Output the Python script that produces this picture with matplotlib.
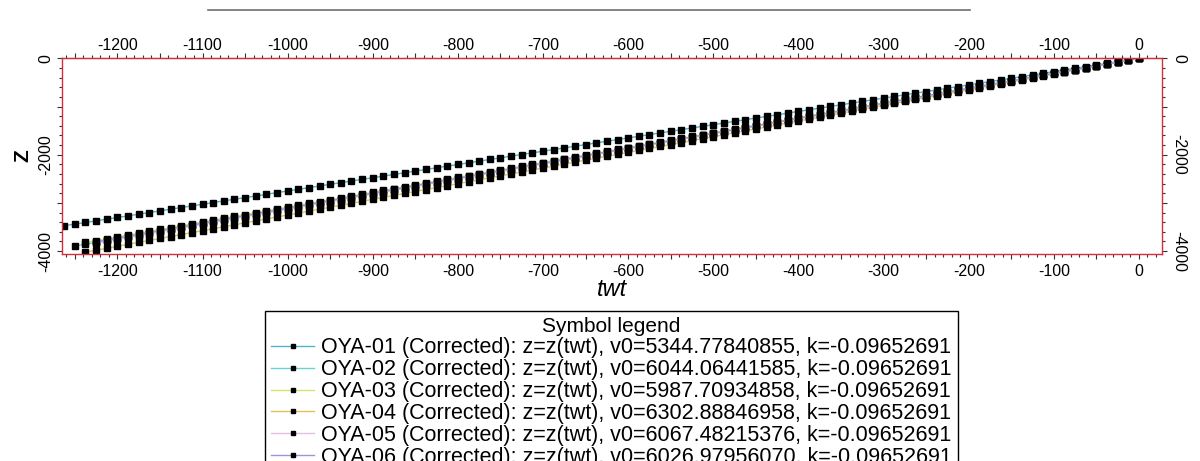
import numpy as np
import matplotlib

matplotlib.use("Agg")
import matplotlib.pyplot as plt
from matplotlib.lines import Line2D
from matplotlib.ticker import MultipleLocator, FuncFormatter

plt.rcParams["font.family"] = ["Liberation Sans", "DejaVu Sans"]

# twt sample grid (ms), markers every 12.5 ms going down from 0
twt_step = 12.5

# depth at each twt sample (positive down, plotted as -z)
z_oya01 = [0, 34, 69, 103, 138, 172, 206, 241, 275, 310, 344, 378, 413, 447, 482, 516, 550, 585, 619, 654,
           688, 722, 757, 791, 826, 860, 894, 929, 963, 998, 1032, 1066, 1101, 1135, 1170, 1204, 1238, 1273,
           1307, 1342, 1376, 1410, 1445, 1479, 1514, 1548, 1582, 1617, 1651, 1686, 1720, 1754, 1789, 1823,
           1858, 1892, 1926, 1961, 1995, 2030, 2064, 2098, 2133, 2167, 2202, 2236, 2270, 2305, 2339, 2374,
           2408, 2442, 2477, 2511, 2546, 2580, 2614, 2649, 2683, 2718, 2752, 2786, 2821, 2855, 2890, 2924,
           2958, 2993, 3027, 3062, 3096, 3130, 3165, 3199, 3234, 3268, 3302, 3337, 3371, 3406, 3440, 3474, 3509]
z_oya02 = [0, 39, 78, 117, 156, 195, 234, 273, 312, 351, 390, 429, 468, 506, 545, 584, 623, 662, 701, 740,
           779, 818, 857, 896, 935, 974, 1013, 1052, 1091, 1130, 1169, 1208, 1247, 1286, 1325, 1364, 1403,
           1442, 1480, 1519, 1558, 1597, 1636, 1675, 1714, 1753, 1792, 1831, 1870, 1909, 1948, 1987, 2026,
           2065, 2104, 2143, 2182, 2221, 2260, 2299, 2338, 2377, 2416, 2454, 2493, 2532, 2571, 2610, 2649,
           2688, 2727, 2766, 2805, 2844, 2883, 2922, 2961, 3000, 3039, 3078, 3117, 3156, 3195, 3234, 3273,
           3312, 3351, 3390, 3428, 3467, 3506, 3545, 3584, 3623, 3662, 3701, 3740, 3779, 3818, 3857, 3896]
z_oya03 = [0, 39, 77, 116, 154, 193, 232, 270, 309, 347, 386, 425, 463, 502, 540, 579, 618, 656, 695, 733,
           772, 811, 849, 888, 926, 965, 1004, 1042, 1081, 1119, 1158, 1197, 1235, 1274, 1312, 1351, 1390,
           1428, 1467, 1505, 1544, 1583, 1621, 1660, 1698, 1737, 1776, 1814, 1853, 1891, 1930, 1969, 2007,
           2046, 2084, 2123, 2162, 2200, 2239, 2277, 2316, 2355, 2393, 2432, 2470, 2509, 2548, 2586, 2625,
           2663, 2702, 2741, 2779, 2818, 2856, 2895, 2934, 2972, 3011, 3049, 3088, 3127, 3165, 3204, 3242,
           3281, 3320, 3358, 3397, 3435, 3474, 3513, 3551, 3590, 3628, 3667, 3706, 3744, 3783, 3821]
z_oya04 = [0, 41, 81, 122, 163, 203, 244, 284, 325, 366, 406, 447, 488, 528, 569, 609, 650, 691, 731, 772,
           813, 853, 894, 934, 975, 1016, 1056, 1097, 1138, 1178, 1219, 1260, 1300, 1341, 1381, 1422, 1463,
           1503, 1544, 1585, 1625, 1666, 1706, 1747, 1788, 1828, 1869, 1910, 1950, 1991, 2032, 2072, 2113,
           2153, 2194, 2235, 2275, 2316, 2357, 2397, 2438, 2478, 2519, 2560, 2600, 2641, 2682, 2722, 2763,
           2803, 2844, 2885, 2925, 2966, 3007, 3047, 3088, 3129, 3169, 3210, 3250, 3291, 3332, 3372, 3413,
           3454, 3494, 3535, 3575, 3616, 3657, 3697, 3738, 3779, 3819, 3860, 3900, 3941, 3982, 4022]
z_oya05 = [0, 39, 78, 117, 156, 196, 235, 274, 313, 352, 391, 430, 469, 508, 548, 587, 626, 665, 704, 743,
           782, 821, 860, 900, 939, 978, 1017, 1056, 1095, 1134, 1173, 1212, 1252, 1291, 1330, 1369, 1408,
           1447, 1486, 1525, 1564, 1604, 1643, 1682, 1721, 1760, 1799, 1838, 1877, 1916, 1956, 1995, 2034,
           2073, 2112, 2151, 2190, 2229, 2268, 2307, 2347, 2386, 2425, 2464, 2503, 2542, 2581, 2620, 2659,
           2699, 2738, 2777, 2816, 2855, 2894, 2933, 2972, 3011, 3051, 3090, 3129, 3168, 3207, 3246, 3285,
           3324, 3363, 3403, 3442, 3481, 3520, 3559, 3598, 3637, 3676, 3715, 3755, 3794, 3833]
z_oya06 = [0, 39, 78, 117, 155, 194, 233, 272, 311, 350, 389, 427, 466, 505, 544, 583, 622, 660, 699, 738,
           777, 816, 855, 894, 932, 971, 1010, 1049, 1088, 1127, 1166, 1204, 1243, 1282, 1321, 1360, 1399,
           1437, 1476, 1515, 1554, 1593, 1632, 1671, 1709, 1748, 1787, 1826, 1865, 1904, 1943, 1981, 2020,
           2059, 2098, 2137, 2176, 2214, 2253, 2292, 2331, 2370, 2409, 2448, 2486, 2525, 2564, 2603, 2642,
           2681, 2720, 2758, 2797, 2836, 2875, 2914, 2953, 2991, 3030, 3069, 3108, 3147, 3186, 3225, 3263,
           3302, 3341, 3380, 3419, 3458, 3497, 3535, 3574, 3613, 3652, 3691, 3730, 3769, 3807]

wells = ["OYA-01", "OYA-02", "OYA-03", "OYA-04", "OYA-05", "OYA-06"]
v0 = ["5344.77840855", "6044.06441585", "5987.70934858", "6302.88846958", "6067.48215376", "6026.97956070"]
k_val = "-0.09652691"
colors = ["#4fb3cc", "#66d4d4", "#d9e26e", "#e2c35a", "#e6bde6", "#9a96dc"]
depths = [z_oya01, z_oya02, z_oya03, z_oya04, z_oya05, z_oya06]

red = "#d2303c"

fig = plt.figure(figsize=(12, 4.61), dpi=100)
ax = fig.add_axes([0.0517, 0.449, 0.9166, 0.4252])

handles = []
for name, v, c, z in zip(wells, v0, colors, depths):
    z = np.array(z)
    t = -twt_step * np.arange(len(z))
    (h,) = ax.plot(t, -z, color=c, lw=1.0, marker="s", ms=4.6,
                   mfc="black", mec="black", label=f"{name} (Corrected): z=z(twt), v0={v}, k={k_val}")
    handles.append(h)

ax.set_xlim(-1265, 27)
ax.set_ylim(-4060, 8)

for s in ax.spines.values():
    s.set_color(red)
    s.set_linewidth(1.0)

xfmt = FuncFormatter(lambda x, p: f"{int(round(x))}" if round(x) % 100 == 0 else "")
ax.xaxis.set_major_locator(MultipleLocator(50))
ax.xaxis.set_minor_locator(MultipleLocator(10))
ax.xaxis.set_major_formatter(xfmt)
ax.yaxis.set_major_locator(MultipleLocator(1000))
ax.yaxis.set_minor_locator(MultipleLocator(200))
ax.yaxis.set_major_formatter(FuncFormatter(lambda y, p: f"{int(round(y))}" if round(y) % 2000 == 0 else ""))

ax.tick_params(axis="both", which="both", direction="out", color="#333333", width=0.8,
               top=False, bottom=True, left=True, right=True,
               labeltop=False, labelbottom=True, labelleft=True, labelright=True, labelsize=11.5)
ax.tick_params(which="major", length=3.5)
ax.tick_params(which="minor", length=2)
ax.tick_params(axis="x", pad=4)
ax.tick_params(axis="y", pad=3)

# top twt axis, same scale
top = ax.secondary_xaxis("top")
top.spines["top"].set_color(red)
top.xaxis.set_major_locator(MultipleLocator(50))
top.xaxis.set_minor_locator(MultipleLocator(10))
top.xaxis.set_major_formatter(xfmt)
top.tick_params(which="both", direction="out", color="#333333", width=0.8, labelsize=11.5, pad=0)
top.tick_params(which="major", length=3.5)
top.tick_params(which="minor", length=2)

for lbl in ax.get_yticklabels():
    lbl.set_rotation(90)
    lbl.set_va("center")
for tk in ax.yaxis.get_major_ticks():
    tk.label2.set_rotation(-90)
    tk.label2.set_va("center")

ax.set_xlabel("twt", fontsize=17, style="italic", labelpad=-1)
ax.set_ylabel("Z", fontsize=15, fontweight="bold", labelpad=4)

# grey rule above the chart (empty title underline)
fig.add_artist(Line2D([208 / 1200, 970 / 1200], [1 - 10 / 461, 1 - 10 / 461],
                      color="#6e6e6e", lw=1.2, transform=fig.transFigure))

leg = fig.legend(handles=handles, loc="upper center", bbox_to_anchor=(0.5096, 1 - 311 / 461),
                 title="Symbol legend", fontsize=15.5, title_fontsize=15, frameon=True,
                 fancybox=False, edgecolor="black", framealpha=1, handlelength=2.0,
                 handletextpad=0.3, labelspacing=0.04, borderpad=0.3, borderaxespad=0,
                 markerscale=0.7)
leg.get_frame().set_linewidth(1.0)

fig.savefig("out.png", dpi=100)
